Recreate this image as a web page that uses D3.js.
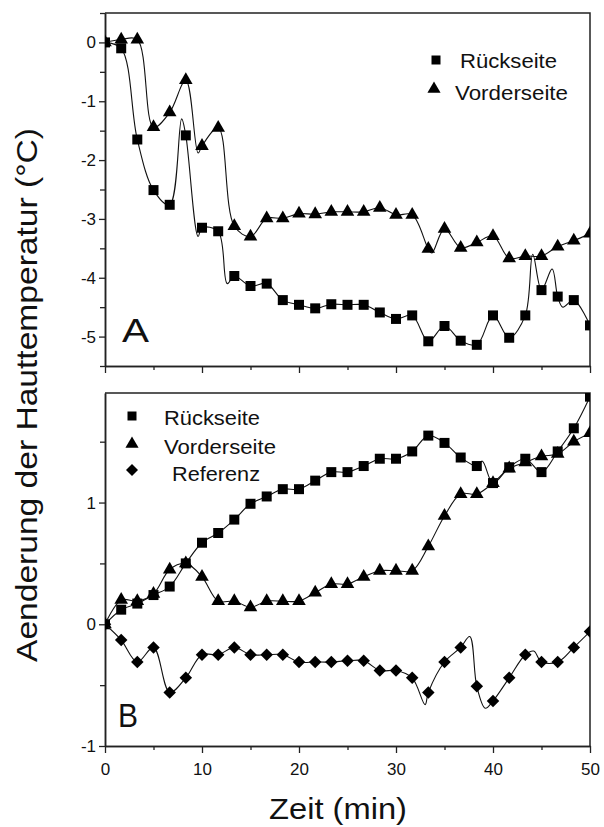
<!DOCTYPE html>
<html>
<head>
<meta charset="utf-8">
<script src="https://cdn.jsdelivr.net/npm/d3@7"></script>
<style>
  body { margin: 0; background: #fff; }
  text { font-family: "Liberation Sans", Arial, sans-serif; fill: #111; }
</style>
</head>
<body>
<div id="chart_area"></div>
<script>
// time grid (min), markers every 100 s
var zeit = [0, 1.67, 3.33, 5, 6.67, 8.33, 10, 11.67, 13.33, 15, 16.67, 18.33, 20, 21.67, 23.33,
            25, 26.67, 28.33, 30, 31.67, 33.33, 35, 36.67, 38.33, 40, 41.67, 43.33, 45, 46.67, 48.33, 50];

// panel A
var rueckA = [0, -0.1, -1.65, -2.51, -2.76, -1.58, -3.15, -3.21, -3.97, -4.14, -4.10, -4.38, -4.46, -4.52, -4.45,
              -4.46, -4.46, -4.59, -4.70, -4.64, -5.08, -4.82, -5.07, -5.14, -4.64, -5.02, -4.64, -4.21, -4.32, -4.38, -4.81];
var vorderA = [0, 0.05, 0.05, -1.44, -1.19, -0.64, -1.76, -1.45, -3.12, -3.30, -2.99, -2.99, -2.91, -2.92, -2.88,
               -2.88, -2.88, -2.81, -2.93, -2.93, -3.51, -3.17, -3.49, -3.40, -3.29, -3.67, -3.63, -3.63, -3.47, -3.37, -3.25];
// line-only points between markers
var rueckALine = [[7.9, -1.3], [9.6, -3.3], [12.6, -4.1], [44.1, -3.6], [46.1, -3.85], [47.2, -4.5]];
var vorderALine = [[9.6, -1.88], [33.7, -3.58]];

// panel B
var rueckB = [0, 0.12, 0.17, 0.24, 0.31, 0.50, 0.67, 0.75, 0.86, 0.99, 1.05, 1.11, 1.11, 1.18, 1.25,
              1.25, 1.30, 1.36, 1.36, 1.42, 1.55, 1.49, 1.37, 1.30, 1.16, 1.29, 1.36, 1.25, 1.42, 1.61, 1.87];
var vorderB = [0, 0.20, 0.19, 0.25, 0.45, 0.50, 0.39, 0.19, 0.19, 0.14, 0.19, 0.19, 0.19, 0.26, 0.33,
               0.33, 0.39, 0.44, 0.44, 0.44, 0.64, 0.89, 1.07, 1.07, 1.16, 1.28, 1.33, 1.38, 1.40, 1.50, 1.57];
var referenzB = [0, -0.13, -0.31, -0.19, -0.56, -0.44, -0.25, -0.25, -0.19, -0.25, -0.25, -0.25, -0.31, -0.31, -0.31,
                 -0.30, -0.30, -0.38, -0.38, -0.44, -0.56, -0.31, -0.19, -0.51, -0.63, -0.44, -0.25, -0.31, -0.31, -0.19, -0.06];
var rueckBLine = [[38.9, 1.34]];
var referenzBLine = [[33.0, -0.66], [37.6, -0.1], [39.2, -0.69], [44.2, -0.22]];

var xTicks = [0, 10, 20, 30, 40, 50];
var xMinor = [5, 15, 25, 35, 45];
var yTicksA = [0, -1, -2, -3, -4, -5];
var yMinorA = [0.5, -0.5, -1.5, -2.5, -3.5, -4.5, -5.5];
var yTicksB = [-1, 0, 1];
var yMinorB = [-0.5, 0.5, 1.5];

var svg = d3.select("#chart_area")
    .append("svg")
    .attr("width", 604)
    .attr("height", 827);

var x = d3.scaleLinear().domain([0, 50]).range([105, 590]);
var yA = d3.scaleLinear().domain([-5.5, 0.5]).range([366, 13]);
var yB = d3.scaleLinear().domain([-1, 1.9]).range([746, 393]);

function merge(vals, extra) {
    var pts = zeit.map(function (t, i) { return [t, vals[i]]; });
    return pts.concat(extra || []).sort(function (a, b) { return a[0] - b[0]; });
}

function panel(id, y, yTicks, yMinor, showXLabels) {
    var g = svg.append("g");
    var top = y.range()[1], bottom = y.range()[0];

    g.append("clipPath").attr("id", id)
        .append("rect")
        .attr("x", x(0)).attr("y", top)
        .attr("width", x(50) - x(0)).attr("height", bottom - top);

    // frame top + right
    g.append("path")
        .attr("d", "M" + x(0) + "," + top + "H" + x(50) + "V" + bottom)
        .attr("fill", "none").attr("stroke", "#222").attr("stroke-width", 1.5);

    var ax = g.append("g").attr("transform", "translate(0," + bottom + ")")
        .call(d3.axisBottom(x).tickValues(xTicks).tickSize(7).tickSizeOuter(0)
            .tickFormat(showXLabels ? function (d) { return d; } : function () { return ""; }));
    g.append("g").attr("transform", "translate(0," + bottom + ")")
        .call(d3.axisBottom(x).tickValues(xMinor).tickSize(4).tickSizeOuter(0).tickFormat(""));
    g.append("g").attr("transform", "translate(" + x(0) + ",0)")
        .call(d3.axisLeft(y).tickValues(yTicks).tickSize(6).tickSizeOuter(0)
            .tickFormat(function (d) { return String(d); }));
    g.append("g").attr("transform", "translate(" + x(0) + ",0)")
        .call(d3.axisLeft(y).tickValues(yMinor).tickSize(5).tickSizeOuter(0).tickFormat(""));

    g.selectAll(".domain").attr("stroke", "#222").attr("stroke-width", 1.5);
    g.selectAll(".tick line").attr("stroke", "#222").attr("stroke-width", 1.3);
    g.selectAll(".tick text")
        .style("font-family", '"Liberation Sans", Arial, sans-serif')
        .style("font-size", "17px").attr("fill", "#111");
    ax.selectAll(".tick text").attr("dy", null).attr("y", 29);
    return g;
}

var gA = panel("clipA", yA, yTicksA, yMinorA, false);
var gB = panel("clipB", yB, yTicksB, yMinorB, true);

var sq = d3.symbol(d3.symbolSquare, 100);
var tri = d3.symbol(d3.symbolTriangle, 80);
var dia = d3.symbol(d3.symbolSquare, 78);

function series(g, clip, y, vals, extra, sym, rot) {
    var line = d3.line()
        .x(function (d) { return x(d[0]); })
        .y(function (d) { return y(d[1]); })
        .curve(d3.curveCatmullRom.alpha(0.5));
    var c = g.append("g").attr("clip-path", "url(#" + clip + ")");
    c.append("path")
        .datum(merge(vals, extra))
        .attr("d", line)
        .attr("fill", "none").attr("stroke", "#111").attr("stroke-width", 1.1);
    c.selectAll("path.m")
        .data(zeit.map(function (t, i) { return [t, vals[i]]; }))
        .enter().append("path").attr("class", "m")
        .attr("d", sym)
        .attr("fill", "#000")
        .attr("transform", function (d) {
            return "translate(" + x(d[0]) + "," + y(d[1]) + ")" + (rot ? " rotate(45)" : "");
        });
}

series(gA, "clipA", yA, rueckA, rueckALine, sq, false);
series(gA, "clipA", yA, vorderA, vorderALine, tri, false);
series(gB, "clipB", yB, rueckB, rueckBLine, sq, false);
series(gB, "clipB", yB, vorderB, [], tri, false);
series(gB, "clipB", yB, referenzB, referenzBLine, dia, true);

// legends
function legendItem(mx, my, sym, rot, label, tx, ty, len) {
    svg.append("path").attr("d", sym).attr("fill", "#000")
        .attr("transform", "translate(" + mx + "," + my + ")" + (rot ? " rotate(45)" : ""));
    svg.append("text").attr("x", tx).attr("y", ty)
        .attr("textLength", len).attr("lengthAdjust", "spacingAndGlyphs")
        .style("font-size", "20px").text(label);
}
var sqL = d3.symbol(d3.symbolSquare, 81);
var triL = d3.symbol(d3.symbolTriangle, 75);
var diaL = d3.symbol(d3.symbolSquare, 72);

legendItem(436, 60, sqL, false, "Rückseite", 460, 68, 97);
legendItem(434, 89, triL, false, "Vorderseite", 455, 100, 113);

legendItem(132, 416, sqL, false, "Rückseite", 164, 425, 96);
legendItem(132, 444, triL, false, "Vorderseite", 164, 454, 112);
legendItem(132, 470, diaL, true, "Referenz", 172, 481, 88);

// panel letters
svg.append("text").attr("x", 122).attr("y", 342)
    .style("font-size", "33px").attr("textLength", 27).attr("lengthAdjust", "spacingAndGlyphs").text("A");
svg.append("text").attr("x", 118).attr("y", 727)
    .style("font-size", "33px").attr("textLength", 20).attr("lengthAdjust", "spacingAndGlyphs").text("B");

// axis titles
svg.append("text")
    .attr("x", 338).attr("y", 819)
    .attr("text-anchor", "middle")
    .attr("textLength", 138).attr("lengthAdjust", "spacingAndGlyphs")
    .style("font-size", "29px").text("Zeit (min)");

svg.append("text")
    .attr("transform", "translate(37,395) rotate(-90)")
    .attr("text-anchor", "middle")
    .attr("textLength", 534).attr("lengthAdjust", "spacingAndGlyphs")
    .style("font-size", "30px").text("Aenderung der Hauttemperatur (°C)");
</script>
</body>
</html>
